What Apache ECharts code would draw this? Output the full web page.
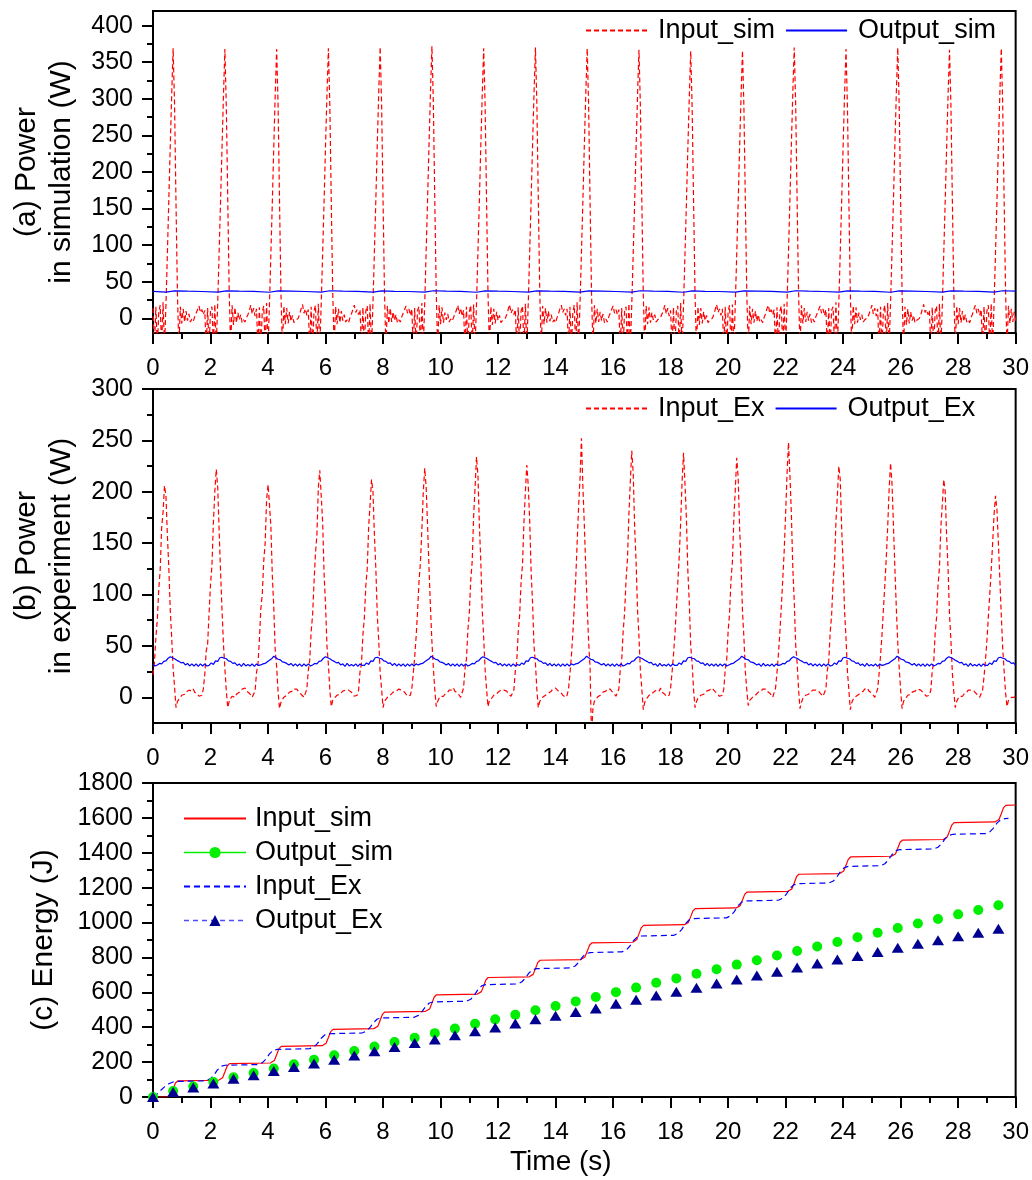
<!DOCTYPE html>
<html><head><meta charset="utf-8">
<script src="https://cdn.jsdelivr.net/npm/echarts@6/dist/echarts.min.js"></script>
<style>html,body{margin:0;padding:0;background:#fff}#c{width:1032px;height:1180px}</style>
</head><body><div id="c"></div>
<script>
// ---------- shared ----------
const timeStep = 0.05;          // sampling step of the power traces (s)
const outExStep = 0.075;        // sampling step of Output_Ex power (s)
const xTickLabels = [0,2,4,6,8,10,12,14,16,18,20,22,24,26,28,30];
const yTicksA = [0,50,100,150,200,250,300,350,400];
const yMinorA = [25,75,125,175,225,275,325,375];
const yTicksB = [0,50,100,150,200,250,300];
const yMinorB = [25,75,125,175,225,275];
const yTicksC = [0,200,400,600,800,1000,1200,1400,1600,1800];

// ---------- (a) simulation power ----------
const inSimV = [
14,-40,16,-40,8,18,-40,22,-40, 18,88,162,236,306,369,292,158,33,-40, 16,-7,13,-5,10,-3,6,-5,-1,-4,2,7,12,17,8,12,5,
11,-40,14,-40,11,16,-40,19,-40, 21,91,161,233,304,368,289,161,36,-40, 18,-9,15,-6,8,-2,5,-6,-2,-5,1,5,11,18,6,14,3,
13,-40,15,-40,9,17,-40,21,-40, 19,89,159,234,305,368,291,160,34,-40, 17,-8,14,-7,9,-4,4,-6,-3,-5,0,6,13,19,7,13,4,
12,-40,16,-40,10,18,-40,20,-40, 20,90,160,236,306,369,290,159,35,-40, 16,-8,13,-6,10,-3,5,-5,-2,-6,1,6,12,18,8,12,5,
12,-40,15,-40,10,17,-40,20,-40, 21,92,163,238,309,371,293,162,36,-40, 17,-7,14,-5,9,-3,5,-6,-2,-5,2,7,12,17,7,13,4,
13,-40,14,-40,11,16,-40,21,-40, 22,93,164,239,310,372,294,161,35,-40, 18,-8,15,-6,8,-2,6,-5,-1,-4,1,6,11,18,6,14,3,
11,-40,16,-40,9,18,-40,19,-40, 20,90,161,236,306,369,291,160,34,-40, 16,-9,13,-7,9,-3,4,-6,-3,-5,0,5,12,19,7,12,5,
12,-40,15,-40,10,17,-40,20,-40, 21,91,162,237,307,370,292,161,36,-40, 17,-8,14,-6,10,-4,5,-5,-2,-6,1,6,13,18,8,13,4,
13,-40,16,-40,8,18,-40,22,-40, 20,90,160,236,306,369,290,159,35,-40, 18,-7,13,-5,9,-3,6,-6,-1,-5,2,7,12,17,7,12,5,
12,-40,14,-40,11,16,-40,20,-40, 19,89,159,234,304,367,289,160,34,-40, 17,-8,15,-6,8,-2,5,-5,-2,-4,1,6,11,18,6,14,3,
11,-40,15,-40,10,17,-40,21,-40, 18,87,157,232,302,365,287,158,33,-40, 16,-9,14,-7,9,-3,4,-6,-3,-5,0,5,12,19,8,13,4,
13,-40,16,-40,9,18,-40,19,-40, 19,88,158,233,303,366,288,159,34,-40, 17,-8,13,-6,10,-4,5,-5,-2,-6,1,6,13,18,7,12,5,
12,-40,15,-40,10,17,-40,20,-40, 21,91,162,237,308,370,292,161,36,-40, 18,-7,14,-5,9,-3,6,-6,-1,-5,2,7,12,17,7,13,4,
12,-40,14,-40,11,16,-40,22,-40, 20,90,161,235,306,368,290,160,35,-40, 17,-8,15,-6,8,-2,5,-5,-2,-4,1,6,11,18,6,14,3,
13,-40,16,-40,9,18,-40,21,-40, 21,91,162,237,308,370,291,161,35,-40, 16,-9,13,-7,9,-3,4,-6,-3,-5,0,5,12,19,8,12,5,
11,-40,15,-40,10,17,-40,20,-40, 19,89,160,234,305,367,289,159,34,-40, 17,-8,14,-6,10,-4,5,-5,-2,-6,1,6,13,18,7,13,4,
12,-40,16,-40,10,18,-40,20,-40, 20,90,161,236,306,369,291,160,35,-40, 17,-7,13,-5,9,-3
];
const outSimPts = [
[0,36.9],
[0.45,35.8],[0.75,37.6],[1.2,37.1],[1.7,36.7],
[2.25,35.9],[2.55,37.5],[3.0,37.1],[3.5,36.8],
[4.05,35.7],[4.35,37.6],[4.8,37.2],[5.3,36.7],
[5.85,35.8],[6.15,37.7],[6.6,37.1],[7.1,36.8],
[7.65,35.9],[7.95,37.6],[8.4,37.0],[8.9,36.7],
[9.45,35.8],[9.75,37.7],[10.2,37.2],[10.7,36.8],
[11.25,35.7],[11.55,37.6],[12.0,37.1],[12.5,36.7],
[13.05,35.8],[13.35,37.5],[13.8,37.1],[14.3,36.8],
[14.85,35.9],[15.15,37.6],[15.6,37.2],[16.1,36.7],
[16.65,35.8],[16.95,37.7],[17.4,37.1],[17.9,36.8],
[18.45,35.7],[18.75,37.6],[19.2,37.0],[19.7,36.7],
[20.25,35.8],[20.55,37.6],[21.0,37.2],[21.5,36.8],
[22.05,35.9],[22.35,37.7],[22.8,37.1],[23.3,36.7],
[23.85,35.8],[24.15,37.6],[24.6,37.1],[25.1,36.8],
[25.65,35.7],[25.95,37.5],[26.4,37.2],[26.9,36.7],
[27.45,35.8],[27.75,37.6],[28.2,37.1],[28.7,36.8],
[29.25,35.9],[29.55,37.7],[30,37.3]
];

// ---------- (b) experiment power ----------
const inExV = [
22,34,58,76,105,124,165,180, 206, 196,158,126,85,58,28,10,-10,-4,
-2,0,2,1,3,5,4,7,8,6,8,5,6,3,1,0,2,
8,22,45,52,82,110,128,170,200, 222, 205,162,122,85,52,28,6,-10,-4,
-1,1,2,0,3,4,5,6,8,7,9,6,5,4,2,0,1,
6,24,32,56,86,100,132,150,192, 207, 188,166,118,88,46,30,5,-11,-5,
-2,0,1,2,3,5,4,6,8,7,8,6,5,3,2,0,1,
8,26,36,64,80,112,140,158,204, 221, 196,170,120,90,50,32,7,-9,-3,
-1,0,2,1,3,4,6,5,7,8,7,6,5,4,1,0,2,
7,25,33,61,77,108,125,166,188, 212, 200,158,125,80,55,24,8,-10,-4,
-2,0,1,2,3,5,4,6,7,8,9,7,6,5,3,1,0,2,
8,23,39,59,83,112,131,163,200, 223, 204,166,125,87,54,29,7,-9,-4,
-1,1,2,1,3,4,5,7,8,7,9,6,5,4,2,0,1,
9,28,37,65,82,114,132,176,204, 234, 216,168,132,85,58,27,8,-9,-3,
-2,0,2,1,3,5,6,7,8,7,8,6,4,3,1,0,
7,26,35,63,80,112,129,170,200, 226, 206,172,122,92,50,33,7,-10,-4,
-2,0,1,2,3,4,5,6,8,7,9,8,6,5,4,2,1,0,2,
8,23,40,62,88,115,150,185,212, 252, 205,168,126,88,54,29,-40,-10,-4,
-2,0,1,2,3,5,4,6,8,7,8,6,5,3,1,0,
8,27,36,64,82,114,134,178,210, 240, 218,166,132,85,59,26,8,-12,-5,
-2,0,2,1,3,5,4,7,8,6,9,5,6,3,1,0,2,
9,24,41,61,86,111,137,170,210, 238, 208,174,123,92,50,33,7,-10,-4,
-1,0,2,1,3,4,6,5,7,8,9,7,6,4,3,1,0,2,
8,27,36,64,81,114,132,174,202, 233, 214,165,131,84,58,25,7,-8,-3,
-2,0,1,2,3,5,4,6,8,7,8,6,5,4,2,0,1,
9,24,42,63,88,114,142,178,218, 248, 216,179,126,94,51,34,8,-11,-5,
-1,0,2,1,3,5,6,7,8,7,8,6,4,3,1,0,
8,26,35,63,80,112,129,171,196, 225, 212,164,130,84,58,25,7,-12,-5,
-2,0,1,2,3,4,5,6,8,7,9,6,5,4,2,0,1,
8,23,40,60,85,109,135,166,202, 228, 208,168,126,87,53,29,7,-11,-4,
-2,0,2,1,3,5,4,6,7,8,9,7,6,4,3,1,0,2,
7,26,34,62,78,109,126,166,188, 212, 200,156,125,80,55,23,5,-10,-4,
-1,1,2,1,3,4,5,7,8,7,8,6,5,3,2,0,1,
7,20,36,55,78,100,124,150,178, 196, 182,150,115,80,48,25,4,-9,-3,
-2,0,1,0,1
];
const outExV = [
32,30.5,
31.5,33,32.5,35,35.5,38,39.5,38.5,37.5,36,35,33.5,34,31.5, 33,30.5,32.5,30.5,32.5,30,32.5,30.5,32.5,30.5,
31,33.5,32,35.5,35,38.5,39,38,37.5,35.5,35,33,33.5,31, 32.5,30,33,30.5,32,30.5,32.5,30,32.5,31,
31.5,32.5,33,34.5,36,37.5,40,38.5,37,36.5,34.5,34,33,31.5, 33,30.5,32.5,30.5,32.5,30,32.5,30.5,32.5,30.5,
31.5,33,32.5,35,35.5,38,39.5,38.5,37.5,36,35,33.5,34,31.5, 32.5,30,33,30.5,32,30.5,32.5,30,32.5,31,
31,33.5,32,35.5,35,38.5,39,38,37.5,35.5,35,33,33.5,31, 33,30.5,32.5,30.5,32.5,30,32.5,30.5,32.5,30.5,32.5,
31.5,32.5,33,34.5,36,37.5,40,38.5,37,36.5,34.5,34,33,31.5, 33,30.5,32.5,30.5,32.5,30,32.5,30.5,32.5,30.5,
31.5,33,32.5,35,35.5,38,39.5,38.5,37.5,36,35,33.5,34,31.5, 33,30.5,32.5,30.5,32.5,30,32.5,30.5,32,
31,33.5,32,35.5,35,38.5,39,38,37.5,35.5,35,33,33.5,31, 33,30.5,32.5,30.5,32.5,30,32.5,30.5,32.5,30.5,32.5,
31.5,32.5,33,34.5,36,37.5,40,38.5,37,36.5,34.5,34,33,31.5, 33,30.5,32.5,30.5,32.5,30,32.5,30.5,32.5,30.5,
31.5,33,32.5,35,35.5,38,39.5,38.5,37.5,36,35,33.5,34,31.5, 32.5,30,33,30.5,32,30.5,32.5,30,32.5,31,
31,33.5,32,35.5,35,38.5,39,38,37.5,35.5,35,33,33.5,31, 33,30.5,32.5,30.5,32.5,30,32.5,30.5,32.5,30.5,
31.5,32.5,33,34.5,36,37.5,40,38.5,37,36.5,34.5,34,33,31.5, 32.5,30,33,30.5,32,30.5,32.5,30,32.5,31,
31.5,33,32.5,35,35.5,38,39.5,38.5,37.5,36,35,33.5,34,31.5, 33,30.5,32.5,30.5,32.5,30,32.5,30.5,32.5,30.5,
31,33.5,32,35.5,35,38.5,39,38,37.5,35.5,35,33,33.5,31, 32.5,30,33,30.5,32,30.5,32.5,30,32.5,31,
31.5,32.5,33,34.5,36,37.5,40,38.5,37,36.5,34.5,34,33,31.5, 33,30.5,32.5,30.5,32.5,30,32.5,30.5,32.5,30.5,
31.5,33,32.5,35,35.5,38,39.5,38.5,37.5,36,35,33.5,34,31.5, 32.5,30,33,30.5,32,30.5,32.5,30,32.5,31,
31,33.5,32,35.5,35,38.5,39,38,37.5,35.5,35,33,33.5,31
];

// ---------- (c) energy ----------
const eInSimPts = [
[0,0],[0.48,0],[0.62,12],[0.7,46],[0.78,80],[0.86,92],
[2.28,96],[2.42,110],[2.5,143],[2.58,178],[2.66,191],
[4.08,195],[4.22,209],[4.3,242],[4.38,277],[4.46,290],
[5.88,294],[6.02,308],[6.1,341],[6.18,375],[6.26,388],
[7.68,392],[7.82,406],[7.9,440],[7.98,474],[8.06,487],
[9.48,491],[9.62,505],[9.7,538],[9.78,573],[9.86,586],
[11.28,590],[11.42,604],[11.5,637],[11.58,672],[11.66,685],
[13.08,689],[13.22,703],[13.3,736],[13.38,770],[13.46,784],
[14.88,788],[15.02,802],[15.1,835],[15.18,870],[15.26,883],
[16.68,887],[16.82,901],[16.9,935],[16.98,970],[17.06,984],
[18.48,988],[18.62,1001],[18.7,1034],[18.78,1068],[18.86,1080],
[20.28,1084],[20.42,1097],[20.5,1129],[20.58,1163],[20.66,1175],
[22.08,1179],[22.22,1193],[22.3,1227],[22.38,1263],[22.46,1277],
[23.88,1281],[24.02,1295],[24.1,1328],[24.18,1362],[24.26,1376],
[25.68,1380],[25.82,1393],[25.9,1426],[25.98,1460],[26.06,1472],
[27.48,1476],[27.62,1490],[27.7,1524],[27.78,1559],[27.86,1573],
[29.28,1577],[29.42,1591],[29.5,1624],[29.58,1659],[29.66,1672],
[30,1674]
];
const eInExPts = [
[0,0],[0.1,10],[0.25,35],[0.4,58],[0.55,76],[0.7,86],[0.85,89],
[1.84,93],[1.99,104],[2.11,124],[2.24,155],[2.37,176],[2.51,182],
[3.65,186],[3.8,196],[3.92,216],[4.05,247],[4.18,267],[4.32,273],
[5.45,277],[5.6,287],[5.72,307],[5.85,337],[5.98,357],[6.12,363],
[7.27,367],[7.42,377],[7.54,397],[7.67,427],[7.8,447],[7.94,453],
[9.08,457],[9.23,468],[9.35,488],[9.48,519],[9.61,539],[9.75,545],
[10.9,549],[11.05,560],[11.17,582],[11.3,616],[11.43,637],[11.57,644],
[12.67,648],[12.82,659],[12.94,679],[13.07,710],[13.2,730],[13.34,736],
[14.53,740],[14.68,751],[14.8,771],[14.93,802],[15.06,822],[15.2,828],
[16.31,832],[16.46,843],[16.58,864],[16.71,896],[16.84,917],[16.98,923],
[18.12,927],[18.27,939],[18.39,961],[18.52,994],[18.65,1016],[18.79,1023],
[19.94,1027],[20.09,1039],[20.21,1061],[20.34,1095],[20.47,1117],[20.61,1124],
[21.75,1128],[21.9,1139],[22.02,1161],[22.15,1195],[22.28,1216],[22.42,1223],
[23.51,1227],[23.66,1238],[23.78,1260],[23.91,1294],[24.04,1315],[24.18,1322],
[25.3,1326],[25.45,1337],[25.57,1358],[25.7,1390],[25.83,1412],[25.97,1418],
[27.15,1422],[27.3,1432],[27.42,1451],[27.55,1481],[27.68,1500],[27.82,1506],
[28.95,1510],[29.1,1520],[29.22,1540],[29.35,1570],[29.48,1590],[29.62,1596],
[29.75,1597]
];
const markerT = [0,0.7,1.4,2.1,2.8,3.5,4.2,4.9,5.6,6.3,7.0,7.7,8.4,9.1,9.8,10.5,11.2,11.9,12.6,13.3,14.0,14.7,15.4,16.1,16.8,17.5,18.2,18.9,19.6,20.3,21.0,21.7,22.4,23.1,23.8,24.5,25.2,25.9,26.6,27.3,28.0,28.7,29.4];
const eOutSimV = [0,34,60,86,113,138,163,188,214,239,264,290,315,340,366,392,420,445,471,497,522,548,573,601,627,655,680,707,732,759,784,811,837,863,889,916,942,969,995,1020,1047,1072,1099];
const eOutExV = [0,29,55,78,104,125,149,172,192,214,238,262,286,309,330,354,377,398,421,445,466,487,507,534,558,582,603,626,650,673,697,718,742,765,788,808,831,856,878,899,921,941,964];

// ---------- build ----------
const F = '"Liberation Sans", Arial, Helvetica, sans-serif';
const K = '#000';
const uni = (vals, step) => vals.map((v, i) => [+(i * step).toFixed(3), v]);
const pairs = (ts, vs) => ts.map((t, i) => [t, vs[i]]);

const grids = [
  {left:153, right:16, top:11, height:322},
  {left:153, right:16, top:389, height:334},
  {left:153, right:16, top:783, height:314}
].map(g => Object.assign(g, {show:true, borderColor:K, borderWidth:2, backgroundColor:'transparent'}));

function xAx(gi, name) {
  return {
    type:'value', gridIndex:gi, min:0, max:30, interval:2,
    axisLine:{onZero:false, lineStyle:{color:K, width:2}},
    axisTick:{length:11, lineStyle:{color:K, width:2}},
    minorTick:{show:true, splitNumber:2, length:6, lineStyle:{color:K, width:2}},
    splitLine:{show:false}, minorSplitLine:{show:false},
    axisLabel:{color:K, fontSize:24, fontFamily:F, margin:23,
      formatter: v => xTickLabels.indexOf(v) >= 0 ? String(v) : ''},
    name: name || '', nameLocation:'middle', nameGap:51,
    nameTextStyle:{color:K, fontSize:28, fontFamily:F, padding:[0,47,0,0]}
  };
}
function yMainCustom(gi, min, max, majors, name, gap) {
  return {
    type:'value', gridIndex:gi, position:'left', min:min, max:max,
    axisLine:{onZero:false, lineStyle:{color:K, width:2}},
    axisTick:{length:11, customValues:majors, lineStyle:{color:K, width:2}},
    axisLabel:{customValues:majors, color:K, fontSize:25, fontFamily:F, margin:20,
      formatter: v => majors.indexOf(v) >= 0 ? String(v) : ''},
    splitLine:{show:false},
    name:name, nameLocation:'middle', nameGap:gap,
    nameTextStyle:{color:K, fontSize:30, fontFamily:F, lineHeight:35}
  };
}
function yMinor(gi, min, max, minors) {
  return {
    type:'value', gridIndex:gi, position:'left', min:min, max:max,
    axisLine:{show:false, onZero:false},
    axisTick:{show:true, length:6, customValues:minors, lineStyle:{color:K, width:2}},
    axisLabel:{show:false}, splitLine:{show:false}
  };
}

const yAxes = [
  yMainCustom(0, -20, 420, yTicksA, '(a) Power\nin simulation (W)', 74),
  yMinor(0, -20, 420, yMinorA),
  yMainCustom(1, -25, 300, yTicksB, '(b) Power\nin experiment (W)', 74),
  yMinor(1, -25, 300, yMinorB),
  {
    type:'value', gridIndex:2, position:'left', min:0, max:1800, interval:200,
    axisLine:{onZero:false, lineStyle:{color:K, width:2}},
    axisTick:{length:11, lineStyle:{color:K, width:2}},
    minorTick:{show:true, splitNumber:2, length:6, lineStyle:{color:K, width:2}},
    axisLabel:{color:K, fontSize:25, fontFamily:F, margin:20,
      formatter: v => yTicksC.indexOf(v) >= 0 ? String(v) : ''},
    splitLine:{show:false}, minorSplitLine:{show:false},
    name:'(c) Energy (J)', nameLocation:'middle', nameGap:92,
    nameTextStyle:{color:K, fontSize:30, fontFamily:F, lineHeight:35}
  }
];

const RED = '#ff0000', BLUE = '#0000ff', GREEN = '#00ee00', NAVY = '#000090', LBLUE = '#4d4dff';
const lineS = (name, xi, yi, data, color, type, w) => ({
  name, type:'line', xAxisIndex:xi, yAxisIndex:yi, data, symbol:'none', showSymbol:false,
  clip:true, animation:false, silent:true,
  lineStyle:{color, width:w || 1.2, type: type || 'solid'}, itemStyle:{color}
});

const series = [
  lineS('a:Input_sim', 0, 0, uni(inSimV, timeStep), RED, [5,3]),
  lineS('a:Output_sim', 0, 0, outSimPts, BLUE),
  lineS('b:Input_Ex', 1, 2, uni(inExV, timeStep), RED, [5,3]),
  lineS('b:Output_Ex', 1, 2, uni(outExV, outExStep), BLUE),
  lineS('c:Input_sim', 2, 4, eInSimPts, RED),
  {name:'c:Output_sim', type:'line', xAxisIndex:2, yAxisIndex:4, data:pairs(markerT, eOutSimV),
   symbol:'circle', symbolSize:10, showSymbol:true, clip:true, silent:true,
   lineStyle:{color:GREEN, width:1.5, opacity:0}, itemStyle:{color:GREEN}},
  lineS('c:Input_Ex', 2, 4, eInExPts, BLUE, [6,4]),
  {name:'c:Output_Ex', type:'line', xAxisIndex:2, yAxisIndex:4, data:pairs(markerT, eOutExV),
   symbol:'triangle', symbolSize:[12,10], showSymbol:true, clip:true, silent:true,
   lineStyle:{color:LBLUE, width:1.5, type:[5,4], opacity:0}, itemStyle:{color:NAVY}}
];

const legText = {color:K, fontSize:27, fontFamily:F, lineHeight:27};
const noSym = {opacity:0};
const legends = [
  {left:585, top:17, padding:0, orient:'horizontal', itemWidth:61, itemHeight:14, itemGap:10, selectedMode:false,
   itemStyle:noSym,
   data:['a:Input_sim','a:Output_sim'], formatter:n => n.slice(2),
   textStyle:Object.assign({padding:[0,0,0,6]}, legText)},
  {left:585, top:395, padding:0, orient:'horizontal', itemWidth:61, itemHeight:14, itemGap:10, selectedMode:false,
   itemStyle:noSym,
   data:['b:Input_Ex','b:Output_Ex'], formatter:n => n.slice(2),
   textStyle:Object.assign({padding:[0,0,0,6]}, legText)},
  {left:183, top:805, padding:0, orient:'vertical', itemWidth:62, itemHeight:14, itemGap:7, selectedMode:false,
   data:[
     {name:'c:Input_sim', itemStyle:noSym},
     {name:'c:Output_sim', itemStyle:{opacity:1}, lineStyle:{opacity:1, width:1.5, color:GREEN, type:'solid'}},
     {name:'c:Input_Ex', itemStyle:noSym},
     {name:'c:Output_Ex', itemStyle:{opacity:1}, lineStyle:{opacity:1, width:1.5, color:LBLUE, type:[5,4]}}
   ],
   formatter:n => n.slice(2),
   textStyle:Object.assign({padding:[0,0,0,4]}, legText)}
];

const chart = echarts.init(document.getElementById('c'), null, {renderer:'canvas'});
chart.setOption({
  animation:false,
  backgroundColor:'#fff',
  grid:grids,
  xAxis:[xAx(0), xAx(1), xAx(2, 'Time (s)')],
  yAxis:yAxes,
  legend:legends,
  series:series
});
</script></body></html>
